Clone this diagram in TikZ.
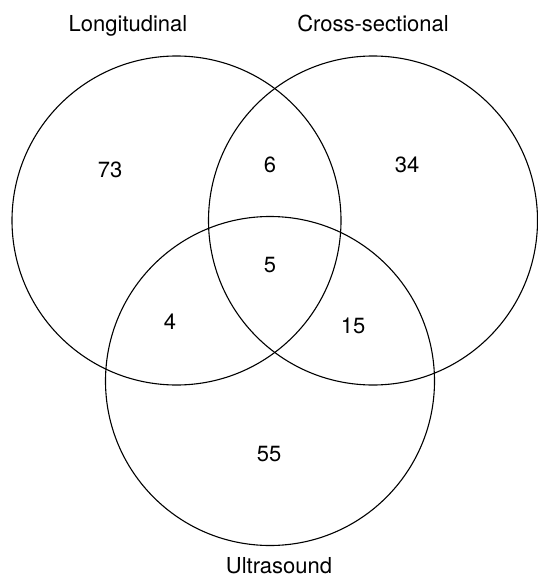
\documentclass[tikz,border=0pt]{standalone}
\usepackage{fontspec}
\setmainfont{TeX Gyre Heros}
\usetikzlibrary{shapes}

\tikzset{
  set/.style = {circle, draw, line width=1.1pt, minimum size=329pt, inner sep=0pt},
  count/.style = {font=\fontsize{22}{26}\selectfont},
  title/.style = {font=\fontsize{22}{26}\selectfont, anchor=base}
}

\begin{document}
\begin{tikzpicture}[x=1pt,y=-1pt]
\useasboundingbox (0,0) rectangle (537,577);

\node[set] (c1) at (176.5,220.5) {};
\node[set] (c2) at (373,220.5) {};
\node[set] (c3) at (270,381) {};

\node[title] (l1) at (128,32) {Longitudinal};
\node[title] (l2) at (373,32) {Cross-sectional};
\node[title] (l3) at (279,573) {Ultrasound};

\node[count] (n1) at (110,170) {73};
\node[count] (n12) at (270,165) {6};
\node[count] (n2) at (407,165) {34};
	\node[count] (n123) at (270,265) {5};
	\node[count] (n13) at (170,322) {4};
	\node[count] (n23) at (353,326) {15};
\node[count] (n3) at (269,454) {55};

\end{tikzpicture}
\end{document}
